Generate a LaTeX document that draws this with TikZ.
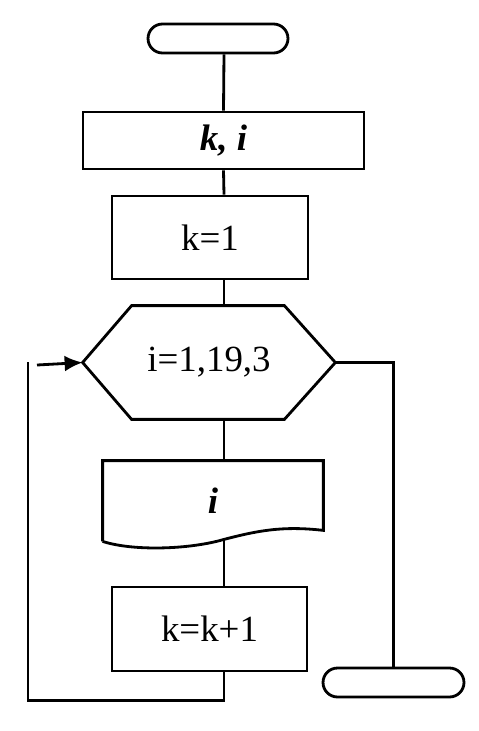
\documentclass[tikz,border=0pt]{standalone}
\usepackage{fontspec}
\setmainfont{Liberation Serif}
\usetikzlibrary{arrows.meta,calc}

\begin{document}
\begin{tikzpicture}[x=0.02cm, y=-0.02cm, line width=1.6pt,
    font=\fontsize{21}{25}\selectfont,
    term/.style={draw, rounded corners=0.29cm, minimum height=0.58cm},
    block/.style={draw, minimum width=3.9cm},
    flow/.style={line width=1.6pt}]
  %
  \useasboundingbox (0,0) rectangle (478,731);
  %
  \coordinate (axis) at (224,0);
  \node[term, minimum width=2.8cm] (start) at (218,38.5) {};
  \node[block, minimum width=5.62cm, minimum height=1.14cm] (kibox) at (223.5,140.5) {\textbf{\textit{k, i}}};
  \node[block, minimum width=3.92cm, minimum height=1.66cm] (k1) at (210,237.5) {k=1};
  \node[minimum width=5cm, minimum height=2.22cm] (cycle) at (209,362.5) {i=1,19,3};
  \node[minimum width=4.36cm, minimum height=1.56cm] (outp) at (213,501) {\textbf{\textit{i}}};
  \node[block, minimum height=1.68cm] (kk) at (209.5,629) {k=k+1};
  \node[term, minimum width=2.82cm] (stop) at (393.5,682.5) {};
  %
  % hexagon
  \draw[line join=miter] (cycle.west) -- ($(cycle.north west)+(49,0)$) -- ($(cycle.north east)+(-51,0)$)
    -- (cycle.east) -- ($(cycle.south east)+(-51,0)$) -- ($(cycle.south west)+(49,0)$) -- cycle;
  % output document
  \coordinate (wave) at ($(outp.south)+(11,-2)$);
  \draw (outp.south west) -- (outp.north west) -- (outp.north east) -- ($(outp.south east)+(0,-11)$)
    .. controls +(-42,-5) and +(31,-8) .. (wave)
    .. controls +(-34,10) and +(31,10) .. (outp.south west);
  %
  \draw[flow] (axis |- start.south) -- (kibox.north);
  \draw[flow] (kibox.south) -- (axis |- k1.north);
  \draw[flow] (axis |- k1.south) -- (axis |- cycle.north);
  \draw[flow] (axis |- cycle.south) -- (axis |- outp.north);
  \draw[flow] (axis |- wave) -- (axis |- kk.north);
  %
  \coordinate (looptop) at (28,362);
  \coordinate (arrstart) at (37,365);
  \draw[flow] (axis |- kk.south) -- ++(0,28) -| (looptop);
  \draw[flow, -{Latex[length=0.36cm, width=0.32cm]}] (arrstart) -- (cycle.west);
  \draw[flow] (cycle.east) -| (stop.north);
  %
\end{tikzpicture}
\end{document}
